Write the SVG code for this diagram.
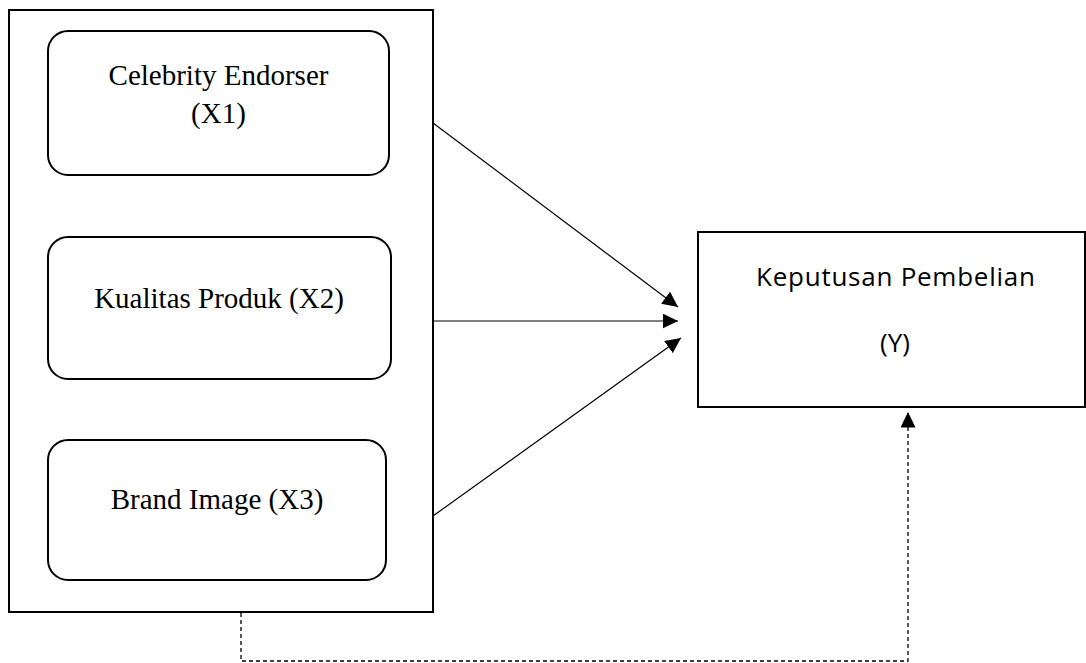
<svg xmlns="http://www.w3.org/2000/svg" width="1086" height="663" viewBox="0 0 1086 663">
  <style>
    .frame { fill: #ffffff; stroke: #000000; stroke-width: 2; }
    .var { fill: #ffffff; stroke: #000000; stroke-width: 2; }
    .serif { font-family: "Liberation Serif", "Times New Roman", serif; font-size: 29px; fill: #000000; text-anchor: middle; }
    .sans { font-family: "Open Sans", "Noto Sans", sans-serif; font-size: 26px; fill: #000000; text-anchor: middle; }
    .edge { stroke: #000000; stroke-width: 1.2; fill: none; }
    .dashed { stroke: #000000; stroke-width: 1.3; fill: none; stroke-dasharray: 4 3; }
  </style>
  <defs>
    <marker id="head" markerUnits="userSpaceOnUse" markerWidth="16" markerHeight="15" refX="15.5" refY="7.5" orient="auto">
      <path d="M0,0 L15.5,7.5 L0,15 Z" fill="#000000"/>
    </marker>
  </defs>

  <rect width="1086" height="663" fill="#ffffff"/>

  <!-- outer frame grouping the independent variables -->
  <g id="independent-group">
    <rect class="frame" x="9" y="10" width="424" height="602"/>
  </g>

  <g id="x1">
    <rect class="var" x="48" y="31" width="341" height="144" rx="20" ry="20"/>
    <text class="serif" x="218.5" y="85">Celebrity Endorser</text>
    <text class="serif" x="218.5" y="123">(X1)</text>
  </g>

  <g id="x2">
    <rect class="var" x="48" y="237" width="343" height="142" rx="20" ry="20"/>
    <text class="serif" x="219" y="308">Kualitas Produk (X2)</text>
  </g>

  <g id="x3">
    <rect class="var" x="48" y="440" width="338" height="140" rx="20" ry="20"/>
    <text class="serif" x="217" y="509">Brand Image (X3)</text>
  </g>

  <g id="y">
    <rect class="frame" x="698" y="232" width="387" height="175"/>
    <text class="sans" x="895.5" y="286" textLength="279" lengthAdjust="spacing">Keputusan Pembelian</text>
    <text class="sans" x="895" y="352">(Y)</text>
  </g>

  <!-- connectors -->
  <g id="connectors">
    <line class="edge" x1="433" y1="123" x2="678" y2="307" marker-end="url(#head)"/>
    <line class="edge" x1="433" y1="321" x2="678" y2="321" marker-end="url(#head)"/>
    <line class="edge" x1="433" y1="516" x2="681" y2="338" marker-end="url(#head)"/>
    <path class="dashed" d="M241,613 V661 H908 V412" marker-end="url(#head)"/>
  </g>
</svg>
